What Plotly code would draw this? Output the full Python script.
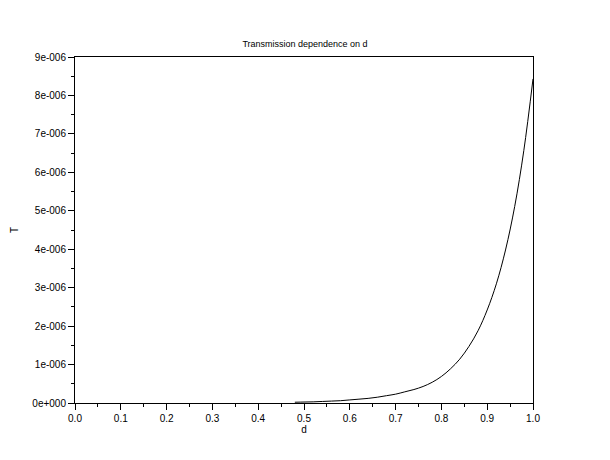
import plotly.graph_objects as go

# Data (T in units of 1e-6)
d_vals = [0.48, 0.50, 0.52, 0.54, 0.56, 0.58, 0.60, 0.62, 0.64, 0.66, 0.68, 0.70,
          0.72, 0.74, 0.76, 0.78, 0.80, 0.82, 0.84, 0.86, 0.88, 0.90, 0.92, 0.94,
          0.96, 0.98, 1.00]
t_micro = [0.02, 0.025, 0.03, 0.04, 0.05, 0.06, 0.08, 0.10, 0.12, 0.15, 0.19, 0.23,
           0.29, 0.35, 0.43, 0.54, 0.69, 0.89, 1.14, 1.47, 1.88, 2.42, 3.10, 3.98,
           5.11, 6.57, 8.43]
t_vals = [v * 1e-6 for v in t_micro]

x_ticks = [0.0, 0.1, 0.2, 0.3, 0.4, 0.5, 0.6, 0.7, 0.8, 0.9, 1.0]
x_ticklabels = ["0.0", "0.1", "0.2", "0.3", "0.4", "0.5", "0.6", "0.7", "0.8", "0.9", "1.0"]
y_ticks = [i * 1e-6 for i in range(10)]
y_ticklabels = ["0e+000", "1e-006", "2e-006", "3e-006", "4e-006", "5e-006",
                "6e-006", "7e-006", "8e-006", "9e-006"]

fig = go.Figure()
fig.add_trace(go.Scatter(x=d_vals, y=t_vals, mode="lines", line_shape="spline",
                         line=dict(color="black", width=1), showlegend=False))

font = "Liberation Sans, Arial, sans-serif"
fig.update_layout(
    width=602, height=452,
    margin=dict(l=67, r=77, t=49, b=57),
    paper_bgcolor="white", plot_bgcolor="white",
    font=dict(family=font, size=10, color="black"),
    title=dict(text="Transmission dependence on d", x=(305 - 8) / 602, xanchor="center",
               y=1 - 36 / 452, yanchor="middle", font=dict(size=9)),
    xaxis=dict(range=[0, 1], tickmode="array", tickvals=x_ticks, ticktext=x_ticklabels,
               automargin=False,
               showgrid=False, zeroline=False, showline=True, linecolor="black",
               linewidth=1, mirror=True, ticks="outside", ticklen=6, tickcolor="black",
               minor=dict(dtick=0.05, ticks="outside", ticklen=3, tickcolor="black", showgrid=False),
               title=dict(text="d", font=dict(size=10), standoff=0)),
    yaxis=dict(range=[0, 9e-6], tickmode="array", tickvals=y_ticks, ticktext=y_ticklabels,
               automargin=False,
               showgrid=False, zeroline=False, showline=True, linecolor="black",
               linewidth=1, mirror=True, ticks="outside", ticklen=6, tickcolor="black",
               minor=dict(dtick=0.5e-6, ticks="outside", ticklen=3, tickcolor="black", showgrid=False),
               title=dict(text="T", font=dict(size=10), standoff=11)),
)

fig.write_html("out.html")
